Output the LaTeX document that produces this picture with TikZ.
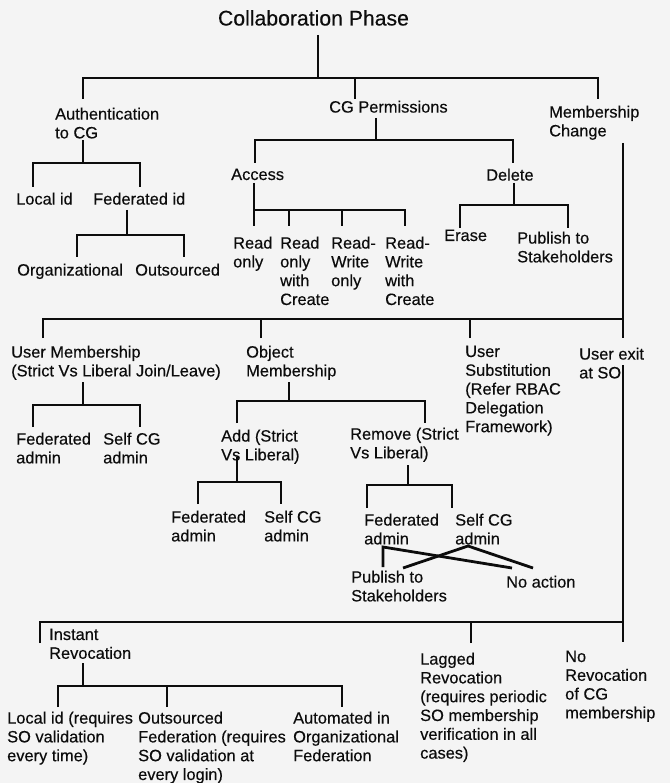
\documentclass[tikz,border=0pt]{standalone}
\usepackage{fontspec}
\setmainfont{Liberation Sans}
\newfontfamily\lblfont{Liberation Sans}[FakeBold=0.35]
\definecolor{bg}{RGB}{244,244,244}
\definecolor{ink}{RGB}{12,12,12}
\tikzset{
  lbl/.style={anchor=north west, inner sep=0pt, align=left, text=ink,
    font=\lblfont\fontsize{16.4}{18.8}\selectfont},
  ttl/.style={anchor=base, inner sep=0pt, text=ink,
    font=\lblfont\fontsize{21.2}{24}\selectfont},
  tree/.style={draw=ink, line width=2.8pt, line join=miter},
}
\begin{document}
\begin{tikzpicture}[x=1pt,y=-1pt]
\fill[bg] (0,0) rectangle (670,783);
\useasboundingbox (0,0) rectangle (670,783);

% ---------- texts (top-left corners) ----------
\node[ttl] (title) at (313.5,25.5) {Collaboration Phase};
\node[lbl] (auth) at (55,107.5) {Authentication\\to CG};
\node[lbl] (cgp) at (329,100.5) {CG Permissions};
\node[lbl] (mem) at (549,105.5) {Membership\\Change};
\node[lbl] (local) at (16,192.5) {Local id};
\node[lbl] (fedid) at (93,192.5) {Federated id};
\node[lbl] (org) at (17,263.5) {Organizational};
\node[lbl] (outs) at (135,263.5) {Outsourced};
\node[lbl] (access) at (231,168.5) {Access};
\node[lbl] (delete) at (486,168.5) {Delete};
\node[lbl] (r1) at (233,236.5) {Read\\only};
\node[lbl] (r2) at (280,236.5) {Read\\only\\with\\Create};
\node[lbl] (r3) at (331,236.5) {Read-\\Write\\only};
\node[lbl] (r4) at (385,236.5) {Read-\\Write\\with\\Create};
\node[lbl] (erase) at (444,229.5) {Erase};
\node[lbl] (pubA) at (517,231.5) {Publish to\\Stakeholders};
\node[lbl] (um) at (11,345.5) {User Membership\\(Strict Vs Liberal Join/Leave)};
\node[lbl] (om) at (246,345.5) {Object\\Membership};
\node[lbl] (us) at (465,345.5) {User\\Substitution\\(Refer RBAC\\Delegation\\Framework)};
\node[lbl] (ue) at (579,347.5) {User exit\\at SO};
\node[lbl] (umf) at (16,432.5) {Federated\\admin};
\node[lbl] (ums) at (103,432.5) {Self CG\\admin};
\node[lbl] (add) at (221,429.5) {Add (Strict\\Vs Liberal)};
\node[lbl] (rem) at (350,427.5) {Remove (Strict\\Vs Liberal)};
\node[lbl] (af) at (171,510.5) {Federated\\admin};
\node[lbl] (as) at (264,510.5) {Self CG\\admin};
\node[lbl] (rf) at (364,513.5) {Federated\\admin};
\node[lbl] (rs) at (455,513.5) {Self CG\\admin};
\node[lbl] (pubB) at (351,570.5) {Publish to\\Stakeholders};
\node[lbl] (noact) at (506,575.5) {No action};
\node[lbl] (inst) at (49,628.5) {Instant\\Revocation};
\node[lbl] (lag) at (420,652.5) {Lagged\\Revocation\\(requires periodic\\SO membership\\verification in all\\cases)};
\node[lbl] (norev) at (565,650.5) {No\\Revocation\\of CG\\membership};
\node[lbl] (bA) at (7,711.5) {Local id (requires\\SO validation\\every time)};
\node[lbl] (bB) at (138,711.5) {Outsourced\\Federation (requires\\SO validation at\\every login)};
\node[lbl] (bC) at (293,711.5) {Automated in\\Organizational\\Federation};

% ---------- connector points ----------
\coordinate (t0) at (318,35);   \coordinate (t1) at (318,78);
\coordinate (tA) at (83,99);    \coordinate (tB) at (355,99);  \coordinate (tC) at (598,99);
\coordinate (a0) at (83,140);   \coordinate (a1) at (83,163);
\coordinate (aL) at (33,187);   \coordinate (aR) at (140,187);
\coordinate (f0) at (127,210);  \coordinate (f1) at (127,235);
\coordinate (fL) at (77,257);   \coordinate (fR) at (184,257);
\coordinate (c0) at (376,118);  \coordinate (c1) at (376,140);
\coordinate (cL) at (255,163);  \coordinate (cR) at (513,163);
\coordinate (x0) at (254,183);  \coordinate (x1) at (254,210);
\coordinate (xA) at (254,226);  \coordinate (xB) at (289,226);
\coordinate (xC) at (342,226);  \coordinate (xD) at (405,226);
\coordinate (d0) at (514,183);  \coordinate (d1) at (514,205);
\coordinate (dL) at (460,228);  \coordinate (dR) at (568,228);
\coordinate (m0) at (623,143);  \coordinate (m1) at (623,319);
\coordinate (mA) at (43,338);   \coordinate (mB) at (261,338);
\coordinate (mC) at (470,338);  \coordinate (mD) at (623,338);
\coordinate (u0) at (83,382);   \coordinate (u1) at (83,405);
\coordinate (uL) at (33,427);   \coordinate (uR) at (140,427);
\coordinate (o0) at (289,382);  \coordinate (o1) at (289,401);
\coordinate (oL) at (237,423);  \coordinate (oR) at (425,423);
\coordinate (p0) at (237,457);  \coordinate (p1) at (237,482);
\coordinate (pL) at (198,504);  \coordinate (pR) at (281,504);
\coordinate (q0) at (408,465);  \coordinate (q1) at (408,485);
\coordinate (qL) at (367,508);  \coordinate (qR) at (452,508);
\coordinate (k0) at (383,547);  \coordinate (k1) at (468,546);
\coordinate (kP) at (383,567);  \coordinate (kN) at (512,568);
\coordinate (kP2) at (403,568); \coordinate (kN2) at (533,568);
\coordinate (e0) at (623,365);  \coordinate (e1) at (623,622);
\coordinate (eA) at (40,643);   \coordinate (eB) at (471,643);  \coordinate (eC) at (623,642);
\coordinate (i0) at (83,663);   \coordinate (i1) at (83,686);
\coordinate (iL) at (58,707);   \coordinate (iM) at (167,707);  \coordinate (iR) at (342,707);

% ---------- connectors ----------
\draw[tree] (t0) -- (t1);
\draw[tree] (tA) |- (t1) -| (tC);
\draw[tree] (tB) -- (tB |- t1);
\draw[tree] (a0) -- (a1);
\draw[tree] (aL) |- (a1) -| (aR);
\draw[tree] (f0) -- (f1);
\draw[tree] (fL) |- (f1) -| (fR);
\draw[tree] (c0) -- (c1);
\draw[tree] (cL) |- (c1) -| (cR);
\draw[tree] (x0) -- (xA);
\draw[tree] (x1) -| (xD);
\draw[tree] (xB) -- (xB |- x1);
\draw[tree] (xC) -- (xC |- x1);
\draw[tree] (d0) -- (d1);
\draw[tree] (dL) |- (d1) -| (dR);
\draw[tree] (m0) -- (mD);
\draw[tree] (mA) |- (m1);
\draw[tree] (mB) -- (mB |- m1);
\draw[tree] (mC) -- (mC |- m1);
\draw[tree] (u0) -- (u1);
\draw[tree] (uL) |- (u1) -| (uR);
\draw[tree] (o0) -- (o1);
\draw[tree] (oL) |- (o1) -| (oR);
\draw[tree] (p0) -- (p1);
\draw[tree] (pL) |- (p1) -| (pR);
\draw[tree] (q0) -- (q1);
\draw[tree] (qL) |- (q1) -| (qR);
\draw[tree] (kP) -- (k0) -- (kN);
\draw[tree] (kP2) -- (k1) -- (kN2);
\draw[tree] (e0) -- (eC);
\draw[tree] (eA) |- (e1);
\draw[tree] (eB) -- (eB |- e1);
\draw[tree] (i0) -- (i1);
\draw[tree] (iL) |- (i1) -| (iR);
\draw[tree] (iM) -- (iM |- i1);
\end{tikzpicture}
\end{document}
